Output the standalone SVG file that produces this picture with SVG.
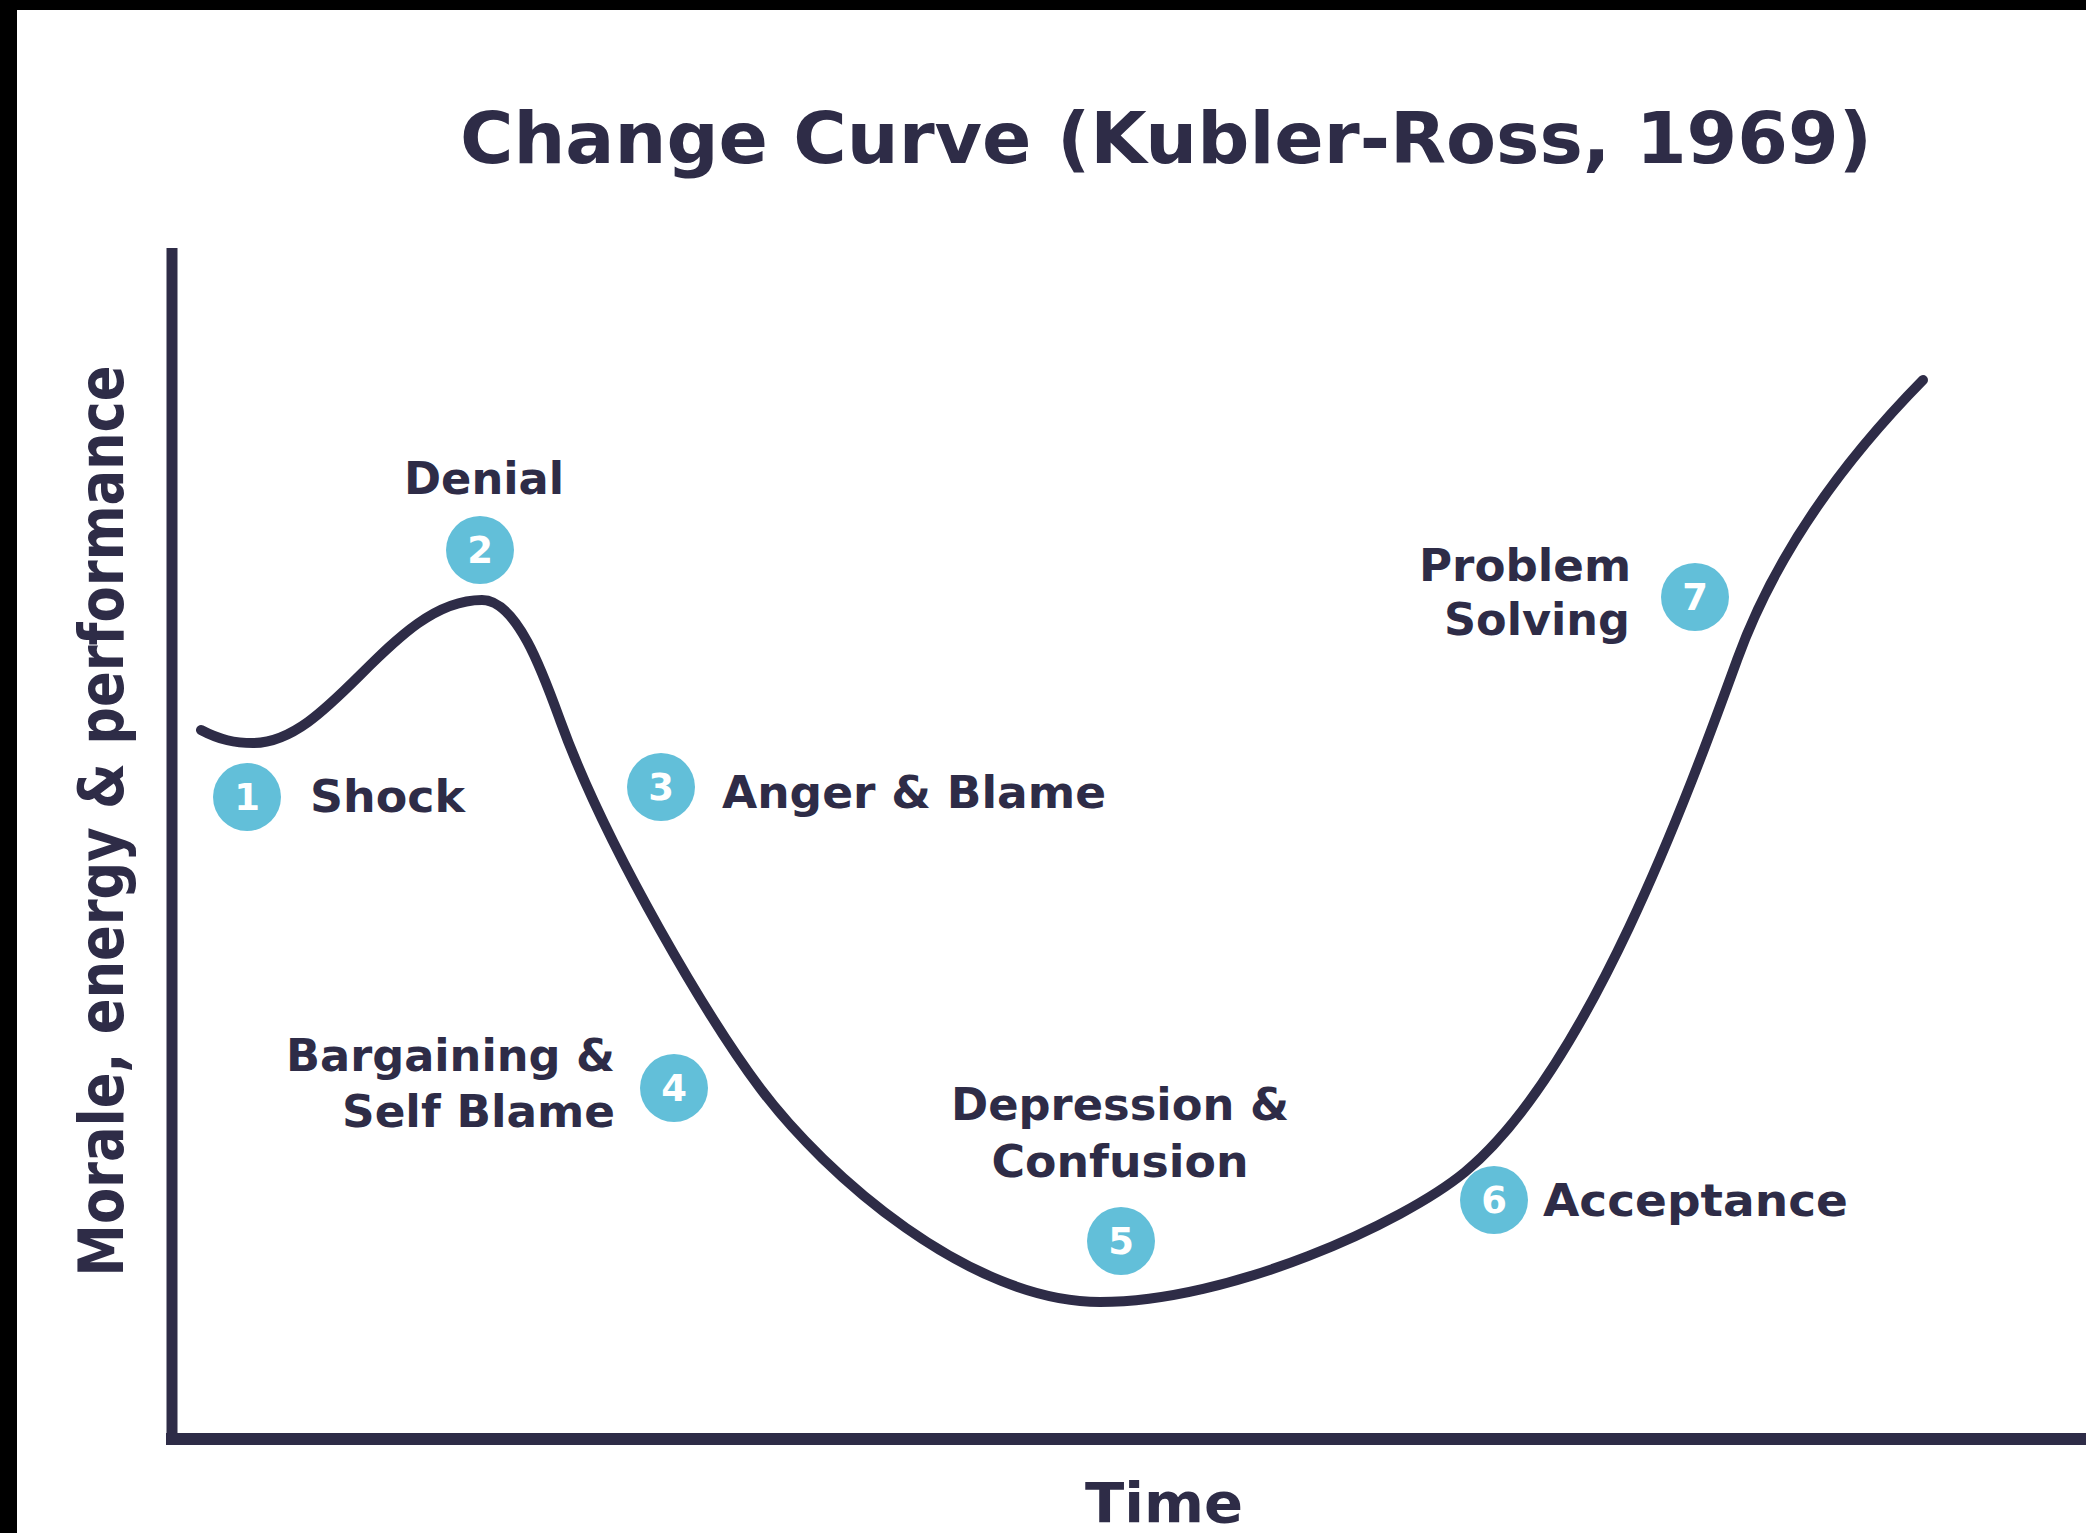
<svg xmlns="http://www.w3.org/2000/svg" width="2086" height="1533" viewBox="0 0 2086 1533">
<style>
.t{font-family:"DejaVu Sans","Liberation Sans",sans-serif;font-weight:700;fill:#2e2c47}
.lbl{font-size:44px}
.dot{fill:#62bfd9}
.num{font-family:"DejaVu Sans","Liberation Sans",sans-serif;font-weight:700;font-size:37px;fill:#ffffff;text-anchor:middle}
.ax{stroke:#2e2c47;fill:none}
</style>
<rect x="0" y="0" width="2086" height="1533" fill="#ffffff"/>
<rect x="0" y="0" width="2086" height="10" fill="#000000"/>
<rect x="0" y="0" width="17" height="1533" fill="#000000"/>
<text id="title" class="t" x="460" y="163" font-size="71" textLength="1412" lengthAdjust="spacingAndGlyphs">Change Curve (Kubler-Ross, 1969)</text>
<g id="axes">
<line class="ax" x1="172" y1="248" x2="172" y2="1440" stroke-width="11"/>
<line class="ax" x1="166" y1="1439" x2="2086" y2="1439" stroke-width="12"/>
<text class="t" transform="translate(123,821) rotate(-90)" font-size="62" text-anchor="middle" textLength="911" lengthAdjust="spacingAndGlyphs">Morale, energy &amp; performance</text>
<text class="t" x="1164" y="1522" font-size="55" text-anchor="middle" textLength="158" lengthAdjust="spacingAndGlyphs">Time</text>
</g>
<g id="connectors">
<path class="ax" stroke-width="10" stroke-linecap="round" stroke-linejoin="round" d="M201,730 C220,740 235,743 253,743 C333,743 392,600 482,600 C517,600 543,673 560,720 C607.6,851.6 712,1024 760,1088 C826,1176 970,1302 1100,1302 C1230,1302 1403,1223 1465,1172 C1588,1070 1689,792 1737,660 C1781,538 1860,444 1923,380"/>
</g>
<g id="stage1">
<circle class="dot" cx="247" cy="797" r="34"/>
<text class="num" x="247" y="810">1</text>
<text class="t lbl" x="310" y="812" textLength="155" lengthAdjust="spacingAndGlyphs">Shock</text>
</g>
<g id="stage2">
<circle class="dot" cx="480" cy="550" r="34"/>
<text class="num" x="480" y="563">2</text>
<text class="t lbl" x="484" y="494" text-anchor="middle" textLength="160" lengthAdjust="spacingAndGlyphs">Denial</text>
</g>
<g id="stage3">
<circle class="dot" cx="661" cy="787" r="34"/>
<text class="num" x="661" y="800">3</text>
<text class="t lbl" x="722" y="808" textLength="384" lengthAdjust="spacingAndGlyphs">Anger &amp; Blame</text>
</g>
<g id="stage4">
<circle class="dot" cx="674" cy="1088" r="34"/>
<text class="num" x="674" y="1101">4</text>
<text class="t lbl" x="615" y="1071" text-anchor="end" textLength="329" lengthAdjust="spacingAndGlyphs">Bargaining &amp;</text>
<text class="t lbl" x="615" y="1127" text-anchor="end" textLength="273" lengthAdjust="spacingAndGlyphs">Self Blame</text>
</g>
<g id="stage5">
<circle class="dot" cx="1121" cy="1241" r="34"/>
<text class="num" x="1121" y="1254">5</text>
<text class="t lbl" x="1120" y="1120" text-anchor="middle" textLength="338" lengthAdjust="spacingAndGlyphs">Depression &amp;</text>
<text class="t lbl" x="1120" y="1177" text-anchor="middle" textLength="257" lengthAdjust="spacingAndGlyphs">Confusion</text>
</g>
<g id="stage6">
<circle class="dot" cx="1494" cy="1200" r="34"/>
<text class="num" x="1494" y="1213">6</text>
<text class="t lbl" x="1543" y="1216" textLength="305" lengthAdjust="spacingAndGlyphs">Acceptance</text>
</g>
<g id="stage7">
<circle class="dot" cx="1695" cy="597" r="34"/>
<text class="num" x="1695" y="610">7</text>
<text class="t lbl" x="1631" y="581" text-anchor="end" textLength="212" lengthAdjust="spacingAndGlyphs">Problem</text>
<text class="t lbl" x="1630" y="635" text-anchor="end" textLength="186" lengthAdjust="spacingAndGlyphs">Solving</text>
</g>
</svg>
